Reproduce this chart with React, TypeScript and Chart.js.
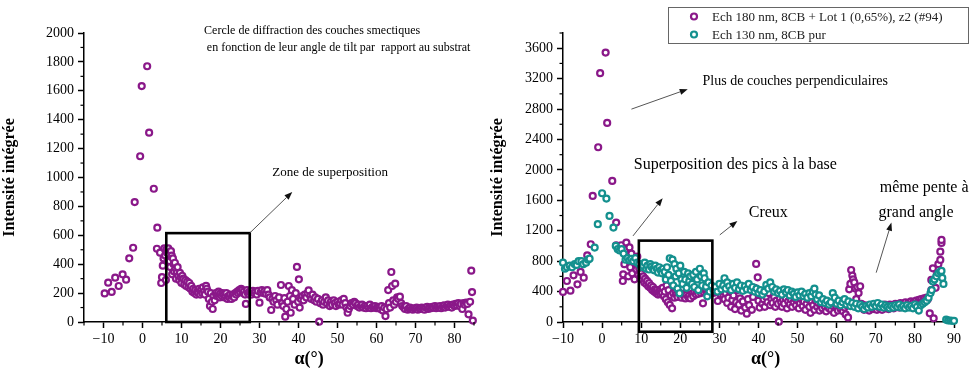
import React, { useEffect, useRef } from 'react';
import { Chart, registerables } from 'chart.js';
Chart.register(...registerables);

const PURPLE = '#8a1889';
const TEAL = '#14908e';
const FONT = '"Liberation Serif", "Times New Roman", serif';

// ---- data (alpha in degrees, integrated intensity) ----
const leftSeries: [number, number][] = [
  [-9.7,198],[-8.8,272],[-7.9,208],[-7.0,307],[-6.1,249],[-5.1,330],[-4.2,293],[-3.4,441],[-2.4,514],[-2.0,830],[-0.6,1147],[-0.2,1633],[1.2,1770],[1.7,1310],[2.9,922],[3.8,653],[3.7,507],
  [4.5,480],[4.8,270],[5.0,310],[5.2,390],[5.4,440],[5.6,510],[5.8,460],[6.0,290],[6.1,500],[6.3,480],[6.5,430],[6.6,510],[6.8,470],[7.0,420],[7.1,380],[7.3,490],[7.5,460],[7.6,330],[7.8,440],[8.0,400],[8.1,350],[8.3,410],[8.5,370],[8.6,300],[8.8,340],[9.0,380],[9.2,320],[9.4,290],[9.6,340],[9.8,310],[10.0,270],[10.2,320],[10.5,300],[10.7,260],[11.0,290],[11.2,250],[11.5,280],[11.8,240],[12.0,270],[12.3,230],[12.5,250],[12.8,210],[13.0,230],[13.3,200],[13.5,220],[13.8,190],[14.0,210],[14.3,200],[14.5,230],[14.8,190],[15.0,220],[15.3,200],[15.5,240],[15.8,210],[16.0,190],[16.3,250],[16.5,230],[16.8,210],[17.0,160],[17.3,110],[17.5,200],[17.8,140],[18.0,90],[18.2,180],[18.5,150],[18.8,200],[19.0,180],[19.3,190],[19.5,210],[19.8,170],[20.0,200],[20.3,180],[20.5,200],[20.8,190],[21.0,170],[21.3,180],[21.5,200],[21.8,160],[22.0,180],[22.3,170],[22.5,190],[22.8,160],[23.0,180],[23.3,190],[23.5,170],[23.8,200],[24.0,190],[24.3,210],[24.5,200],[24.8,220],[25.0,210],[25.3,230],[25.5,220],[25.8,200],[26.0,210],[26.3,190],[26.5,125],[26.8,220],[27.0,200],[27.3,190],[27.5,210],[27.8,200],
  [28.0,190],[28.3,215],[28.6,200],[29.0,210],[29.3,190],[29.6,215],[30.0,134],[30.3,205],[30.6,220],[31.0,200],[31.3,215],[31.6,195],[32.0,220],[32.3,190],[32.6,170],[33.0,83],[33.3,160],[33.6,140],[34.0,180],[34.3,150],[34.6,120],[35.0,170],[35.5,256],[35.8,130],[36.1,110],[36.4,165],[36.6,37],[36.9,90],[37.2,140],[37.5,249],[37.8,180],[38.0,64],[38.3,220],[38.6,160],[39.0,120],[39.3,200],[39.6,381],[39.9,140],[40.1,295],[40.3,100],[40.6,160],[41.0,180],[41.3,150],[41.6,190],[42.0,170],[42.3,200],[42.6,219],[43.0,180],[43.3,160],[43.6,190],[44.0,150],[44.3,170],[44.6,140],[45.0,160],[45.3,2],[45.6,130],[46.0,150],[46.3,120],[46.6,140],[47.0,170],[47.3,130],[47.6,150],[48.0,110],[48.3,140],[48.6,120],[49.0,150],[49.3,130],[49.6,110],[50.0,140],[50.3,120],[50.6,130],[51.0,150],[51.3,120],[51.6,160],[52.0,130],[52.3,100],[52.6,64],[52.9,90],[53.3,110],[53.6,130],[54.0,120],[54.3,140],[54.6,130],[55.0,110],[55.3,120],[55.6,100],[56.0,110],[56.3,120],[56.6,100],[57.0,110],[57.3,95],[57.6,110],[58.0,100],[58.3,120],[58.6,95],[59.0,105],[59.3,100],[59.6,110],[60.0,95],[60.3,105],[60.6,100],[61.0,90],[61.3,110],[61.6,80],[62.0,100],[62.3,41],[62.6,90],[63.0,221],[63.2,130],[63.5,100],[63.8,346],[64.0,249],[64.3,150],[64.5,120],[64.8,265],[65.0,140],[65.3,170],[65.6,160],[66.0,175],[66.3,130],[66.6,110],[67.0,100],[67.3,90],[67.6,110],[68.0,85],[68.3,95],[68.6,100],[69.0,90],[69.3,85],[69.6,95],[70.0,90],[70.3,100],[70.6,85],[71.0,95],[71.3,90],[71.6,100],[72.0,95],[72.3,85],[72.6,100],[73.0,105],[73.3,90],[73.6,100],[74.0,95],[74.3,105],[74.6,100],[75.0,110],[75.3,95],[75.6,105],[76.0,100],[76.3,110],[76.6,95],[77.0,105],[77.3,115],[77.6,100],[78.0,110],[78.3,120],[78.6,105],[79.0,115],[79.3,100],[79.6,120],[80.0,110],[80.3,125],[80.6,115],[81.0,130],[81.3,110],[81.6,125],[82.0,90],[82.3,130],[82.6,120],[83.0,135],[83.3,125],[83.6,53],[84.0,140],[84.3,355],[84.5,207],[84.7,10],
];

const rightPurple: [number, number][] = [
  [-10,395],[-9,539],[-8.1,412],[-7.3,614],[-6.3,496],[-5.5,658],[-4.7,583],[-3.8,877],[-2.9,1022],[-2.4,1658],[-1.0,2298],[-0.5,3272],[0.9,3543],[1.3,2618],[2.6,1855],[3.6,1307],[3.6,1009],[4.9,1009],[5.3,539],[5.4,627],[5.7,760],[6.0,950],[6.2,1044],[6.5,870],[6.7,600],[7.0,980],[7.2,720],[7.5,900],[7.7,640],[8.0,820],[8.3,561],[8.5,780],[8.8,690],[9.0,860],[9.3,620],[9.5,700],[9.8,580],
  [10.0,640],[10.3,560],[10.5,600],[10.8,520],[11.0,570],[11.3,500],[11.5,540],[11.8,470],[12.0,510],[12.3,450],[12.5,480],[12.8,420],[13.0,460],[13.3,400],[13.5,430],[13.8,380],[14.0,420],[14.3,360],[14.5,400],[14.8,370],[15.0,430],[15.3,380],[15.5,450],[15.8,340],[16.0,400],[16.3,300],[16.5,480],[16.8,260],[17.0,420],[17.3,224],[17.6,350],[17.9,180],[18.2,380],[18.5,320],[18.8,400],[19.0,360],[19.3,330],[19.6,390],[20.0,350],[20.3,320],[20.6,370],[21.0,340],[21.3,310],[21.6,360],[22.0,330],[22.3,350],[22.6,310],[23.0,370],[23.3,340],[23.6,390],[24.0,360],[24.3,400],[24.6,370],[25.0,410],[25.3,380],[25.6,420],[25.8,246],[26.0,390],[26.3,430],[26.6,400],[27.0,380],[27.3,420],[27.6,390],[28.0,410],[28.3,380],[28.6,420],[29.0,390],[29.3,400],[29.6,276],
  [30.0,410],[30.3,360],[30.6,420],[31.0,340],[31.3,300],[31.6,380],[32.0,250],[32.3,320],[32.6,410],[33.0,200],[33.3,290],[33.6,350],[34.0,170],[34.3,260],[34.6,420],[35.0,230],[35.3,310],[35.6,150],[36.0,270],[36.3,450],[36.6,190],[37.0,110],[37.3,300],[37.6,220],[38.0,440],[38.3,160],[38.6,330],[39.0,450],[39.4,763],[39.8,588],[40.0,280],[40.3,190],[40.6,350],[41.0,240],[41.3,300],[41.6,200],[42.0,330],[42.3,260],[42.6,380],[43.0,220],[43.3,300],[43.6,250],[44.0,330],[44.3,200],[44.6,280],[45.0,240],[45.2,4],[45.5,310],[45.8,260],[46.0,200],[46.3,290],[46.6,240],[47.0,310],[47.3,180],[47.6,270],[48.0,230],[48.3,300],[48.6,200],[49.0,260],[49.3,310],[49.6,220],[50.0,280],[50.3,180],[50.6,250],[51.0,300],[51.3,210],[51.6,270],[52.0,160],[52.3,240],[52.6,300],[53.0,200],[53.3,120],[53.6,260],[54.0,220],[54.3,160],[54.6,280],[55.0,200],[55.3,250],[55.6,150],[56.0,230],[56.3,180],[56.6,260],[57.0,200],[57.3,140],[57.6,220],[58.0,180],[58.3,250],[58.6,160],[59.0,210],[59.3,120],[59.6,230],
  [60.0,190],[60.3,150],[60.6,240],[61.0,170],[61.3,210],[61.6,140],[62.0,190],[62.3,100],[62.6,220],[62.9,60],[63.2,430],[63.5,500],[63.7,684],[64.0,610],[64.2,561],[64.5,520],[64.8,440],[65.0,300],[65.3,460],[65.6,380],[66.0,470],[66.3,240],[66.6,200],[67.0,160],[67.3,220],[67.6,170],[68.0,200],[68.3,150],[68.6,210],[69.0,180],[69.3,220],[69.6,170],[70.0,200],[70.3,160],[70.6,220],[71.0,180],[71.3,210],[71.6,160],[72.0,200],[72.3,230],[72.6,180],[73.0,210],[73.3,170],[73.6,230],[74.0,190],[74.3,220],[74.6,180],[75.0,240],[75.3,200],[75.6,230],[76.0,190],[76.3,250],[76.6,210],[77.0,240],[77.3,200],[77.6,260],[78.0,220],[78.3,250],[78.6,210],[79.0,270],[79.3,230],[79.6,260],[80.0,240],[80.3,280],[80.6,250],[81.0,290],[81.3,260],[81.6,300],[82.0,270],[82.3,310],[82.6,280],[83.0,320],[83.3,300],[83.8,114],[84.8,48],[84.2,421],[84.2,553],[84.6,706],[85.3,450],[85.6,620],[86.0,760],[86.5,816],[86.5,925],[86.8,1040],[86.8,1079],
];

const rightTeal: [number, number][] = [
  [-10,780],[-9.5,700],[-9,720],[-8.3,740],[-7.7,720],[-7,760],[-6.5,750],[-6,800],[-5.3,800],[-4.8,760],[-4.1,780],[-3.6,820],[-3.2,833],[-1.9,978],[-1.1,1286],[0,1693],[1.1,1623],[1.9,1395],[2.9,1241],[3.5,1000],[4.0,957],[4.5,940],[5.0,957],[5.5,900],[6.0,820],[6.5,840],[7.0,810],[7.5,830],[8.0,800],[8.5,840],[9.0,780],[9.5,760],
  [10.0,720],[10.5,740],[10.9,780],[11.3,700],[11.6,740],[12.0,690],[12.3,760],[12.6,728],[13.0,700],[13.3,680],[13.6,740],[14.0,700],[14.3,650],[14.6,720],[15.0,680],[15.3,640],[15.6,700],[16.0,660],[16.3,560],[16.6,720],[17.0,620],[17.3,838],[17.6,540],[18.0,820],[18.2,480],[18.5,760],[18.8,600],[19.0,700],[19.3,440],[19.6,640],[19.8,378],[20.0,740],[20.3,560],[20.6,500],[21.0,660],[21.3,560],[21.6,450],[22.0,640],[22.3,540],[22.6,600],[23.0,500],[23.3,620],[23.6,460],[24.0,660],[24.3,560],[24.6,420],[25.0,700],[25.3,600],[25.6,480],[26.0,640],[26.2,575],[26.6,465],[26.9,338],[27.2,520],[27.5,400],[28.0,480],[28.5,420],[29.0,460],[29.5,400],
  [30.0,500],[30.5,430],[31.0,480],[31.3,575],[31.6,440],[32.0,520],[32.5,470],[33.0,420],[33.5,500],[34.0,450],[34.5,520],[35.0,430],[35.5,480],[36.0,410],[36.5,470],[37.0,430],[37.5,500],[38.0,420],[38.5,460],[39.0,400],[39.5,440],[40.0,380],[40.5,420],[41.0,360],[41.5,400],[42.0,487],[42.5,440],[43.0,520],[43.5,460],[44.0,400],[44.5,430],[45.0,380],[45.5,410],[46.0,360],[46.5,430],[47.0,390],[47.5,420],[48.0,350],[48.5,400],[49.0,370],[49.5,330],[50.0,390],[50.5,350],[51.0,400],[51.5,340],[52.0,370],[52.5,320],[53.0,380],[53.5,340],[53.9,399],[54.3,440],[54.6,360],[55.0,300],[55.5,350],[56.0,260],[56.5,300],[57.0,250],[57.5,280],[58.0,230],[58.5,260],[59.0,380],[59.5,320],
  [60.0,240],[60.5,280],[61.0,220],[61.5,260],[62.0,300],[62.5,230],[63.0,270],[63.5,210],[64.0,250],[64.5,200],[65.0,240],[65.5,180],[66.0,230],[66.5,200],[67.0,170],[67.5,210],[68.0,190],[68.5,230],[69.0,200],[69.5,240],[70.0,210],[70.5,250],[71.0,200],[71.5,230],[72.0,190],[72.5,220],[73.0,200],[73.5,180],[74.0,210],[74.5,190],[75.0,220],[75.5,200],[76.0,230],[76.5,190],[77.0,210],[77.5,180],[78.0,220],[78.5,190],[79.0,210],[79.5,180],[80.0,230],[80.5,200],[81.0,150],[81.5,220],[82.0,240],[82.5,260],[83.0,280],[83.5,320],[84.0,380],[84.3,420],[84.6,531],[85.0,560],[85.5,600],[86.0,640],[86.5,662],[86.8,671],[87.0,580],[87.3,500],[88.0,30],[88.5,20],[89.0,20],[89.5,15],[90.0,15],
];

const leftXTicks = [-10, 0, 10, 20, 30, 40, 50, 60, 70, 80];
const leftYTicks = [0, 200, 400, 600, 800, 1000, 1200, 1400, 1600, 1800, 2000];
const rightXTicks = [-10, 0, 10, 20, 30, 40, 50, 60, 70, 80, 90];
const rightYTicks = [0, 400, 800, 1200, 1600, 2000, 2400, 2800, 3200, 3600];

const seriesLabels = ['Ech 180 nm, 8CB + Lot 1 (0,65%), z2 (#94)', 'Ech 130 nm, 8CB pur'];
const leftTitleLines = ['Cercle de diffraction des couches smectiques', 'en fonction de leur angle de tilt par  rapport au substrat'];
const yTitle = 'Intensité intégrée';
const xTitle = 'α(°)';

type Ann =
  | { type: 'box'; x0: number; x1: number; y0: number; y1: number }
  | { type: 'arrow'; x0: number; y0: number; x1: number; y1: number }
  | { type: 'text'; x: number; y: number; text: string; size: number; bold?: boolean; align?: CanvasTextAlign };

const leftAnns: Ann[] = [
  { type: 'text', x: 15.8, y: 2014, text: leftTitleLines[0], size: 12 },
  { type: 'text', x: 16.5, y: 1896, text: leftTitleLines[1], size: 12 },
  { type: 'box', x0: 6.1, x1: 27.5, y0: 0, y1: 615 },
  { type: 'arrow', x0: 27.5, y0: 616, x1: 38.4, y1: 900 },
  { type: 'text', x: 33.3, y: 1031, text: 'Zone de superposition', size: 13 },
  { type: 'text', x: 42.7, y: -256, text: xTitle, size: 18, bold: true, align: 'center' },
];

const rightAnns: Ann[] = [
  { type: 'box', x0: 9.4, x1: 28.2, y0: -128, y1: 1070 },
  { type: 'arrow', x0: 7.5, y0: 2799, x1: 21.9, y1: 3062 },
  { type: 'text', x: 25.7, y: 3158, text: 'Plus de couches perpendiculaires', size: 14 },
  { type: 'arrow', x0: 7.9, y0: 1132, x1: 15.5, y1: 1628 },
  { type: 'text', x: 8.1, y: 2066, text: 'Superposition des pics à la base', size: 16 },
  { type: 'arrow', x0: 30.1, y0: 1145, x1: 34.6, y1: 1329 },
  { type: 'text', x: 37.5, y: 1434, text: 'Creux', size: 16 },
  { type: 'arrow', x0: 70.1, y0: 649, x1: 74.0, y1: 1307 },
  { type: 'text', x: 71.0, y: 1763, text: 'même pente à', size: 16 },
  { type: 'text', x: 70.7, y: 1434, text: 'grand angle', size: 16 },
  { type: 'text', x: 41.8, y: -487, text: xTitle, size: 18, bold: true, align: 'center' },
];

const RING_R = 3;
const RING_W = 2.2;

function drawRing(ctx: CanvasRenderingContext2D, x: number, y: number, color: string) {
  ctx.beginPath();
  ctx.arc(x, y, RING_R, 0, Math.PI * 2);
  ctx.fillStyle = '#fff';
  ctx.fill();
  ctx.lineWidth = RING_W;
  ctx.strokeStyle = color;
  ctx.stroke();
}

function fmtTick(v: number) {
  return v < 0 ? '\u2212' + Math.abs(v) : String(v);
}

function makePlugin(anns: Ann[], minorX: number, minorY: number, legend: boolean) {
  return {
    id: 'annotations',
    afterDraw(chart: any) {
      const ctx: CanvasRenderingContext2D = chart.ctx;
      const xs = chart.scales.x;
      const ys = chart.scales.y;
      const area = chart.chartArea;
      ctx.save();
      // minor ticks
      ctx.strokeStyle = '#000';
      ctx.lineWidth = 1.2;
      for (let v = xs.min; v <= xs.max + 1e-6; v += minorX) {
        if (Math.abs(v % (minorX * 2)) < 1e-6) continue;
        const px = xs.getPixelForValue(v);
        ctx.beginPath();
        ctx.moveTo(px, area.bottom);
        ctx.lineTo(px, area.bottom + 3.5);
        ctx.stroke();
      }
      for (let v = ys.min; v <= ys.max + 1e-6; v += minorY) {
        if (Math.abs(v % (minorY * 2)) < 1e-6) continue;
        const py = ys.getPixelForValue(v);
        ctx.beginPath();
        ctx.moveTo(area.left, py);
        ctx.lineTo(area.left - 3.5, py);
        ctx.stroke();
      }
      for (const a of anns) {
        if (a.type === 'box') {
          const x0 = xs.getPixelForValue(a.x0), x1 = xs.getPixelForValue(a.x1);
          const y0 = ys.getPixelForValue(a.y0), y1 = ys.getPixelForValue(a.y1);
          ctx.lineWidth = 2.6;
          ctx.strokeStyle = '#000';
          ctx.strokeRect(Math.min(x0, x1), Math.min(y0, y1), Math.abs(x1 - x0), Math.abs(y1 - y0));
        } else if (a.type === 'arrow') {
          const x0 = xs.getPixelForValue(a.x0), x1 = xs.getPixelForValue(a.x1);
          const y0 = ys.getPixelForValue(a.y0), y1 = ys.getPixelForValue(a.y1);
          const ang = Math.atan2(y1 - y0, x1 - x0);
          const hl = 8, hw = 3;
          const bx = x1 - hl * Math.cos(ang), by = y1 - hl * Math.sin(ang);
          ctx.strokeStyle = '#555';
          ctx.lineWidth = 1;
          ctx.beginPath();
          ctx.moveTo(x0, y0);
          ctx.lineTo(bx, by);
          ctx.stroke();
          ctx.fillStyle = '#111';
          ctx.beginPath();
          ctx.moveTo(x1, y1);
          ctx.lineTo(bx + hw * Math.sin(ang), by - hw * Math.cos(ang));
          ctx.lineTo(bx - hw * Math.sin(ang), by + hw * Math.cos(ang));
          ctx.closePath();
          ctx.fill();
        } else {
          ctx.fillStyle = '#000';
          ctx.font = `${a.bold ? 'bold ' : ''}${a.size}px ${FONT}`;
          ctx.textAlign = a.align || 'left';
          ctx.textBaseline = 'middle';
          ctx.fillText(a.text, xs.getPixelForValue(a.x), ys.getPixelForValue(a.y));
        }
      }
      if (legend) {
        const bx = area.right - 286, by = 7, bw = 300, bh = 36;
        ctx.fillStyle = '#fff';
        ctx.fillRect(bx, by, bw, bh);
        ctx.strokeStyle = '#666';
        ctx.lineWidth = 1;
        ctx.strokeRect(bx + 0.5, by + 0.5, bw, bh);
        const colors = [PURPLE, TEAL];
        seriesLabels.forEach((label, i) => {
          const cy = by + 9.5 + i * 18;
          drawRing(ctx, bx + 26, cy, colors[i]);
          ctx.fillStyle = '#222';
          ctx.font = `13px ${FONT}`;
          ctx.textAlign = 'left';
          ctx.textBaseline = 'middle';
          ctx.fillText(label, bx + 44, cy + 1);
        });
      }
      ctx.restore();
    },
  };
}

function makeConfig(opts: {
  datasets: any[];
  xmin: number; xmax: number; ymax: number;
  xTicks: number[]; yTicks: number[];
  yWidth: number; padRight: number;
  anns: Ann[]; minorX: number; minorY: number; legend: boolean;
}): any {
  const tickFont = { family: FONT, size: 14 };
  return {
    type: 'scatter',
    data: { datasets: opts.datasets },
    options: {
      responsive: false,
      animation: false,
      layout: { padding: { top: 33, right: opts.padRight, left: 0, bottom: 0 } },
      plugins: { legend: { display: false }, tooltip: { enabled: false } },
      scales: {
        x: {
          type: 'linear',
          min: opts.xmin,
          max: opts.xmax,
          afterBuildTicks: (axis: any) => { axis.ticks = opts.xTicks.map((v) => ({ value: v })); },
          afterFit: (s: any) => { s.height = 50; },
          ticks: { font: tickFont, color: '#000', padding: 3, maxRotation: 0, autoSkip: false, callback: (v: any) => fmtTick(Number(v)) },
          grid: { drawOnChartArea: false, tickLength: 6, tickWidth: 1.5, tickColor: '#000' },
          border: { color: '#000', width: 1.5 },
        },
        y: {
          type: 'linear',
          min: 0,
          max: opts.ymax,
          afterBuildTicks: (axis: any) => { axis.ticks = opts.yTicks.map((v) => ({ value: v })); },
          afterFit: (s: any) => { s.width = opts.yWidth; },
          ticks: { font: tickFont, color: '#000', padding: 4, autoSkip: false, callback: (v: any) => fmtTick(Number(v)) },
          grid: { drawOnChartArea: false, tickLength: 6, tickWidth: 1.5, tickColor: '#000' },
          border: { color: '#000', width: 1.5 },
          title: {
            display: true,
            text: yTitle,
            font: { family: FONT, size: 16, weight: 'bold' },
            color: '#000',
            padding: { top: 0, bottom: 0 },
          },
        },
      },
    },
    plugins: [makePlugin(opts.anns, opts.minorX, opts.minorY, opts.legend)],
  };
}

function toPoints(arr: [number, number][]) {
  return arr.map(([x, y]) => ({ x, y }));
}

function ringDataset(label: string, data: [number, number][], color: string, order: number) {
  return {
    label,
    data: toPoints(data),
    pointStyle: 'circle',
    pointRadius: RING_R,
    pointBorderWidth: RING_W,
    pointBorderColor: color,
    pointBackgroundColor: '#ffffff',
    showLine: false,
    clip: false,
    order,
  };
}

export default function App() {
  const leftRef = useRef<HTMLCanvasElement>(null);
  const rightRef = useRef<HTMLCanvasElement>(null);

  useEffect(() => {
    const left = new Chart(leftRef.current as HTMLCanvasElement, makeConfig({
      datasets: [ringDataset(seriesLabels[0], leftSeries, PURPLE, 1)],
      xmin: -15, xmax: 85, ymax: 2000,
      xTicks: leftXTicks, yTicks: leftYTicks,
      yWidth: 84, padRight: 46,
      anns: leftAnns, minorX: 5, minorY: 100, legend: false,
    }));
    const right = new Chart(rightRef.current as HTMLCanvasElement, makeConfig({
      datasets: [
        ringDataset(seriesLabels[0], rightPurple, PURPLE, 2),
        ringDataset(seriesLabels[1], rightTeal, TEAL, 1),
      ],
      xmin: -10, xmax: 90, ymax: 3800,
      xTicks: rightXTicks, yTicks: rightYTicks,
      yWidth: 75, padRight: 22,
      anns: rightAnns, minorX: 5, minorY: 200, legend: true,
    }));
    return () => {
      left.destroy();
      right.destroy();
    };
  }, []);

  return (
    <div style={{ position: 'absolute', left: 0, top: 0, width: 976, height: 372, background: '#fff' }}>
      <canvas ref={leftRef} width={520} height={372} style={{ position: 'absolute', left: 0, top: 0, width: 520, height: 372 }} />
      <canvas ref={rightRef} width={488} height={372} style={{ position: 'absolute', left: 488, top: 0, width: 488, height: 372 }} />
    </div>
  );
}
